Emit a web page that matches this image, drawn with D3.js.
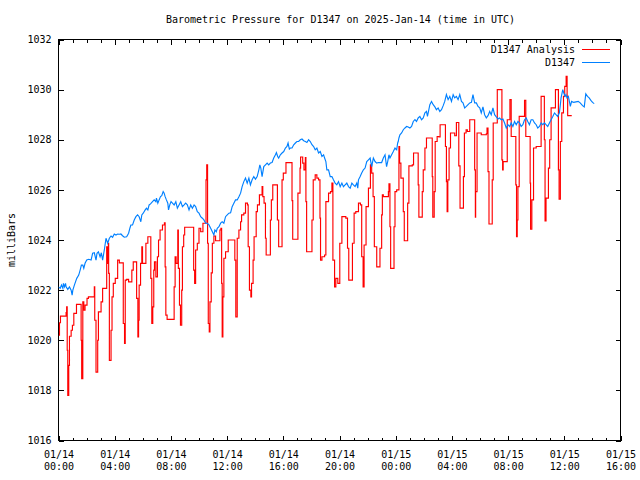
<!DOCTYPE html>
<html><head><meta charset="utf-8">
<script src="https://cdn.jsdelivr.net/npm/d3@7"></script>
<style>
body{margin:0;background:#fff}
svg{display:block}
text{font-family:"DejaVu Sans Mono","Liberation Mono",monospace;font-size:10px;fill:#000}
</style>
</head><body>
<svg id="c" width="640" height="480"></svg>
<script>
const chartTitle = "Barometric Pressure for D1347 on 2025-Jan-14 (time in UTC)";
const yAxisLabel = "milliBars";
const seriesNames = ["D1347 Analysis", "D1347"];
const seriesColors = ["#ff0000", "#0080ff"];
const startTime = "2025-01-14T00:00:00Z";
const xDomainHours = [0, 40];
const majorTickHours = [0, 4, 8, 12, 16, 20, 24, 28, 32, 36, 40];
const yDomain = [1016, 1032];
const yTickValues = [1016, 1018, 1020, 1022, 1024, 1026, 1028, 1030, 1032];

// [hours since start, mbar]
const analysisPoints = [
[0.00,1020.2],[0.07,1020.7],[0.14,1020.96],[0.54,1021.1],[0.58,1021.33],[0.62,1019.6],[0.66,1017.8],[0.73,1019.0],[0.78,1020.16],[0.90,1020.4],[0.99,1020.6],[1.09,1021.07],[1.28,1021.43],[1.61,1020.0],[1.65,1018.47],[1.73,1021.53],[1.80,1021.2],[1.89,1021.4],[2.03,1021.67],[2.13,1021.73],[2.55,1022.13],[2.58,1020.8],[2.67,1018.73],[2.79,1020.0],[2.84,1021.13],[3.03,1021.53],[3.14,1022.07],[3.43,1023.73],[3.50,1023.07],[3.55,1023.87],[3.57,1022.67],[3.62,1019.2],[3.74,1020.4],[3.81,1021.73],[3.90,1022.27],[4.04,1022.47],[4.21,1023.2],[4.33,1023.09],[4.61,1020.67],[4.70,1019.87],[4.75,1022.4],[4.85,1022.43],[4.99,1022.33],[5.22,1022.8],[5.32,1023.13],[5.56,1021.67],[5.65,1020.13],[5.70,1020.8],[5.74,1022.2],[5.84,1023.07],[5.93,1023.73],[5.98,1023.07],[6.22,1023.87],[6.36,1024.13],[6.57,1022.47],[6.64,1020.67],[6.71,1021.33],[6.78,1022.8],[6.83,1023.13],[6.93,1022.53],[7.04,1023.33],[7.12,1024.0],[7.23,1024.4],[7.40,1024.6],[7.54,1024.69],[7.59,1022.93],[7.64,1021.0],[7.73,1020.83],[8.23,1022.13],[8.30,1023.33],[8.37,1023.07],[8.49,1024.4],[8.53,1022.87],[8.61,1021.4],[8.68,1020.6],[8.77,1022.0],[8.82,1023.73],[8.91,1024.2],[8.98,1024.51],[9.62,1022.8],[9.69,1022.27],[9.76,1023.6],[9.88,1023.87],[10.00,1024.47],[10.12,1024.33],[10.28,1024.67],[10.50,1026.4],[10.55,1027.0],[10.61,1023.87],[10.66,1020.67],[10.73,1020.33],[10.78,1021.53],[10.87,1022.69],[10.95,1023.87],[11.06,1024.16],[11.18,1023.97],[11.49,1024.4],[11.56,1024.47],[11.61,1022.27],[11.65,1020.13],[11.70,1021.73],[11.77,1023.27],[11.89,1023.53],[12.08,1024.0],[12.55,1023.2],[12.62,1020.93],[12.72,1024.07],[12.84,1024.4],[12.96,1024.73],[13.03,1025.0],[13.19,1025.07],[13.31,1025.47],[13.45,1025.4],[13.50,1023.73],[13.59,1022.0],[13.69,1021.73],[13.74,1022.27],[13.85,1023.2],[13.92,1024.13],[14.07,1025.13],[14.16,1025.4],[14.30,1025.8],[14.49,1026.13],[14.54,1025.73],[14.63,1025.47],[14.73,1024.07],[14.78,1023.4],[15.08,1024.8],[15.15,1025.6],[15.25,1026.2],[15.58,1024.8],[15.67,1023.73],[15.91,1026.4],[16.00,1026.67],[16.19,1027.09],[16.62,1025.57],[16.67,1024.03],[17.04,1025.87],[17.19,1026.87],[17.23,1027.31],[17.38,1027.07],[17.47,1026.8],[17.57,1027.29],[17.61,1025.53],[17.66,1023.53],[18.04,1024.8],[18.13,1026.4],[18.27,1026.6],[18.39,1026.47],[18.51,1026.4],[18.61,1024.87],[18.65,1023.2],[18.75,1023.33],[18.94,1023.4],[19.03,1025.53],[19.22,1025.87],[19.36,1025.93],[19.46,1026.27],[19.53,1023.2],[19.65,1022.13],[19.74,1022.47],[19.88,1022.27],[20.02,1023.87],[20.17,1024.93],[20.45,1024.87],[20.57,1023.67],[20.66,1022.4],[20.92,1023.87],[21.04,1025.07],[21.16,1025.13],[21.35,1025.47],[21.49,1025.4],[21.58,1023.33],[21.68,1022.13],[21.75,1023.8],[21.89,1025.33],[22.06,1026.07],[22.20,1027.0],[22.29,1026.67],[22.39,1025.73],[22.48,1023.73],[22.65,1022.93],[22.88,1023.67],[23.00,1025.0],[23.05,1025.8],[23.12,1025.73],[23.48,1025.93],[23.52,1026.24],[23.59,1024.53],[23.64,1022.87],[23.88,1024.53],[23.95,1025.93],[24.07,1026.0],[24.23,1027.73],[24.28,1027.07],[24.37,1026.47],[24.54,1025.13],[24.61,1023.97],[24.85,1025.47],[24.94,1026.96],[25.18,1027.0],[25.27,1027.47],[25.60,1026.2],[25.65,1024.91],[25.89,1025.93],[25.96,1026.8],[26.08,1027.67],[26.19,1028.07],[26.60,1026.53],[26.64,1024.91],[26.74,1025.93],[26.81,1027.93],[26.95,1028.13],[27.07,1028.11],[27.16,1028.6],[27.54,1027.73],[27.61,1026.33],[27.66,1025.13],[27.71,1026.4],[27.80,1027.67],[27.90,1028.27],[28.20,1028.16],[28.32,1028.69],[28.49,1026.96],[28.58,1025.27],[28.82,1026.53],[28.89,1028.27],[29.01,1028.4],[29.10,1028.33],[29.27,1028.8],[29.62,1026.8],[29.67,1024.91],[29.69,1025.93],[29.79,1028.27],[30.09,1028.2],[30.45,1028.24],[30.50,1028.47],[30.57,1026.73],[30.64,1024.64],[30.87,1026.4],[30.94,1028.67],[31.23,1030.0],[31.56,1027.2],[31.61,1026.8],[31.65,1027.13],[31.94,1028.8],[32.13,1029.6],[32.22,1028.13],[32.55,1026.2],[32.60,1024.13],[32.65,1024.8],[32.70,1026.13],[32.79,1028.93],[33.17,1029.57],[33.26,1028.13],[33.57,1026.27],[33.60,1024.43],[33.69,1025.6],[33.81,1027.67],[34.00,1027.73],[34.35,1029.73],[34.58,1028.0],[34.63,1024.76],[34.70,1025.67],[34.87,1026.87],[34.96,1028.0],[35.06,1029.27],[35.37,1030.0],[35.58,1026.8],[35.63,1025.63],[35.72,1027.93],[35.82,1029.07],[35.94,1029.73],[36.03,1030.13],[36.13,1030.53],[36.20,1029.73],[36.24,1028.96],[36.53,1028.96]
];

const observedPoints = [
[0.00,1022.13],[0.12,1022.07],[0.21,1022.2],[0.31,1022.07],[0.35,1022.27],[0.43,1022.13],[0.50,1022.27],[0.54,1022.13],[0.66,1022.03],[0.78,1022.13],[0.90,1022.0],[0.97,1021.8],[1.02,1022.0],[1.13,1022.2],[1.21,1022.33],[1.30,1022.47],[1.44,1022.6],[1.54,1022.8],[1.63,1023.0],[1.73,1023.0],[1.80,1022.87],[1.89,1023.07],[2.01,1023.2],[2.15,1023.23],[2.32,1023.2],[2.43,1023.47],[2.55,1023.49],[2.67,1023.2],[2.74,1023.47],[2.84,1023.53],[2.96,1023.33],[3.05,1023.49],[3.14,1023.2],[3.26,1023.6],[3.33,1023.87],[3.38,1024.07],[3.50,1023.87],[3.62,1024.07],[3.74,1024.16],[3.85,1024.11],[3.97,1024.24],[4.09,1024.2],[4.21,1024.24],[4.33,1024.23],[4.44,1024.24],[4.56,1024.17],[4.68,1024.11],[4.85,1024.13],[4.99,1024.27],[5.08,1024.47],[5.15,1024.6],[5.27,1024.6],[5.39,1024.8],[5.51,1024.93],[5.63,1025.0],[5.74,1024.93],[5.86,1024.73],[5.93,1025.0],[6.03,1025.07],[6.17,1025.2],[6.26,1025.27],[6.36,1025.2],[6.45,1025.4],[6.55,1025.44],[6.69,1025.53],[6.81,1025.6],[6.93,1025.53],[6.97,1025.67],[7.07,1025.47],[7.16,1025.6],[7.26,1025.73],[7.35,1025.77],[7.45,1025.93],[7.52,1025.87],[7.59,1025.73],[7.68,1025.6],[7.78,1025.47],[7.83,1025.2],[7.92,1025.4],[8.01,1025.53],[8.11,1025.47],[8.23,1025.4],[8.35,1025.53],[8.46,1025.27],[8.58,1025.4],[8.70,1025.53],[8.82,1025.33],[8.94,1025.4],[9.05,1025.47],[9.17,1025.4],[9.29,1025.2],[9.41,1025.4],[9.53,1025.27],[9.65,1025.4],[9.76,1025.33],[9.88,1025.13],[10.00,1025.07],[10.12,1024.93],[10.24,1024.87],[10.35,1024.8],[10.47,1024.67],[10.59,1024.67],[10.71,1024.6],[10.83,1024.47],[10.95,1024.33],[11.06,1024.2],[11.13,1024.4],[11.23,1024.33],[11.30,1024.47],[11.42,1024.53],[11.54,1024.67],[11.65,1024.73],[11.77,1024.67],[11.89,1024.93],[12.01,1025.0],[12.13,1025.07],[12.25,1025.09],[12.36,1025.33],[12.48,1025.47],[12.60,1025.6],[12.72,1025.6],[12.84,1025.73],[12.96,1025.87],[13.07,1026.13],[13.19,1026.33],[13.31,1026.47],[13.43,1026.27],[13.55,1026.47],[13.66,1026.2],[13.78,1026.4],[13.90,1026.53],[14.02,1026.43],[14.14,1026.53],[14.26,1026.8],[14.33,1027.0],[14.40,1026.87],[14.49,1026.53],[14.61,1026.93],[14.73,1027.0],[14.85,1027.07],[14.96,1027.0],[15.08,1027.07],[15.20,1027.09],[15.32,1027.27],[15.44,1027.4],[15.51,1027.49],[15.60,1027.33],[15.67,1027.27],[15.79,1027.4],[15.91,1027.47],[16.03,1027.53],[16.15,1027.67],[16.26,1027.73],[16.34,1027.87],[16.43,1027.63],[16.50,1027.67],[16.62,1027.67],[16.74,1027.8],[16.86,1027.87],[16.97,1027.93],[17.09,1027.93],[17.21,1028.0],[17.33,1028.03],[17.45,1027.96],[17.57,1027.93],[17.68,1027.89],[17.80,1028.0],[17.92,1027.93],[18.04,1027.8],[18.16,1027.73],[18.27,1027.6],[18.39,1027.67],[18.51,1027.47],[18.63,1027.53],[18.75,1027.33],[18.87,1027.4],[18.94,1027.27],[19.03,1027.13],[19.10,1026.8],[19.22,1026.8],[19.34,1026.53],[19.46,1026.53],[19.57,1026.4],[19.69,1026.27],[19.81,1026.2],[19.93,1026.33],[20.05,1026.13],[20.17,1026.27],[20.28,1026.13],[20.40,1026.2],[20.52,1026.27],[20.64,1026.13],[20.76,1026.07],[20.88,1026.27],[20.99,1026.2],[21.11,1026.13],[21.23,1026.27],[21.30,1026.07],[21.35,1026.4],[21.47,1026.53],[21.58,1026.67],[21.70,1026.8],[21.82,1026.87],[21.94,1027.13],[22.06,1027.2],[22.18,1027.27],[22.29,1026.93],[22.41,1027.27],[22.53,1027.13],[22.65,1027.07],[22.77,1027.09],[22.88,1027.09],[23.00,1027.09],[23.12,1027.27],[23.24,1027.4],[23.35,1026.93],[23.43,1027.13],[23.52,1027.4],[23.59,1027.27],[23.71,1027.4],[23.83,1027.53],[23.95,1027.67],[24.07,1027.6],[24.14,1027.87],[24.18,1027.93],[24.23,1028.07],[24.30,1028.2],[24.42,1028.27],[24.54,1028.4],[24.66,1028.47],[24.78,1028.53],[24.89,1028.51],[25.01,1028.47],[25.13,1028.53],[25.25,1028.73],[25.37,1028.8],[25.48,1028.73],[25.60,1028.87],[25.72,1028.93],[25.84,1028.8],[25.96,1028.87],[26.08,1029.07],[26.19,1029.13],[26.26,1028.93],[26.36,1029.2],[26.43,1029.4],[26.55,1029.53],[26.67,1029.4],[26.79,1029.31],[26.90,1029.2],[27.02,1029.27],[27.14,1029.13],[27.26,1029.2],[27.38,1029.36],[27.49,1029.53],[27.61,1029.8],[27.73,1029.6],[27.85,1029.73],[27.97,1029.53],[28.09,1029.8],[28.20,1029.67],[28.32,1029.73],[28.44,1029.6],[28.56,1029.8],[28.68,1029.53],[28.79,1029.47],[28.91,1029.27],[29.03,1029.33],[29.15,1029.4],[29.27,1029.47],[29.39,1029.49],[29.50,1029.8],[29.62,1029.47],[29.74,1029.47],[29.86,1029.33],[29.98,1029.27],[30.09,1029.07],[30.21,1029.31],[30.33,1029.0],[30.45,1028.87],[30.57,1028.96],[30.69,1029.13],[30.80,1029.0],[30.92,1029.27],[31.04,1029.0],[31.16,1028.91],[31.28,1028.83],[31.39,1028.87],[31.51,1028.8],[31.63,1028.83],[31.75,1028.67],[31.87,1028.47],[31.99,1028.6],[32.11,1028.53],[32.22,1028.67],[32.34,1028.53],[32.46,1028.73],[32.58,1028.6],[32.70,1028.73],[32.81,1028.67],[32.93,1028.53],[33.05,1028.6],[33.17,1028.8],[33.29,1028.87],[33.40,1028.73],[33.52,1028.6],[33.64,1028.8],[33.76,1028.8],[33.88,1028.67],[34.00,1028.6],[34.11,1028.47],[34.23,1028.53],[34.35,1028.67],[34.47,1028.6],[34.59,1028.67],[34.70,1028.6],[34.82,1028.53],[34.94,1028.67],[35.06,1028.8],[35.18,1028.93],[35.30,1029.07],[35.41,1029.0],[35.53,1028.93],[35.65,1029.07],[35.72,1029.4],[35.77,1029.67],[35.89,1030.0],[35.96,1029.87],[36.05,1029.73],[36.12,1029.8],[36.19,1029.67],[36.29,1029.73],[36.36,1029.53],[36.43,1029.33],[36.52,1029.53],[36.67,1029.49],[36.83,1029.51],[36.99,1029.53],[37.13,1029.47],[37.30,1029.36],[37.42,1029.31],[37.53,1029.83],[37.65,1029.73],[37.77,1029.67],[37.89,1029.57],[38.01,1029.49],[38.13,1029.44]
];

const svg = d3.select("#c");
const t0 = new Date(startTime).getTime();
const toDate = h => new Date(t0 + h * 3600e3);

const x = d3.scaleUtc().domain(xDomainHours.map(toDate)).range([58.5, 620.5]);
const y = d3.scaleLinear().domain(yDomain).range([440.5, 39.5]);
const [L, R] = x.range();
const [B, T] = y.range();

const majorTicks = majorTickHours.map(toDate);
const minorTicks = d3.range(xDomainHours[0], xDomainHours[1] + 1).map(toDate);
const fmtDay = d3.utcFormat("%m/%d");
const fmtTime = d3.utcFormat("%H:%M");

svg.append("defs").append("clipPath").attr("id", "plot")
  .append("rect").attr("x", L).attr("y", T).attr("width", R - L).attr("height", B - T);

const axisStyle = g => { g.select(".domain").remove(); g.selectAll(".tick line").attr("stroke", "#000").attr("shape-rendering", "crispEdges"); };

svg.append("g").attr("transform", `translate(0,${B})`)
  .call(d3.axisBottom(x).tickValues(minorTicks).tickSize(-3).tickFormat(""))
  .call(axisStyle);
svg.append("g").attr("transform", `translate(0,${T})`)
  .call(d3.axisTop(x).tickValues(minorTicks).tickSize(-3).tickFormat(""))
  .call(axisStyle);

const xb = svg.append("g").attr("transform", `translate(0,${B})`)
  .call(d3.axisBottom(x).tickValues(majorTicks).tickSize(-5).tickPadding(10).tickFormat(""))
  .call(axisStyle);
xb.selectAll(".tick text").attr("font-size", null).attr("font-family", null).each(function(d) {
  const t = d3.select(this).attr("dy", null);
  t.append("tspan").attr("x", 0).attr("dy", "0.71em").text(fmtDay(d));
  t.append("tspan").attr("x", 0).attr("dy", "1.2em").text(fmtTime(d));
});
svg.append("g").attr("transform", `translate(0,${T})`)
  .call(d3.axisTop(x).tickValues(majorTicks).tickSize(-5).tickFormat(""))
  .call(axisStyle);

const yl = svg.append("g").attr("transform", `translate(${L},0)`)
  .call(d3.axisLeft(y).tickValues(yTickValues).tickSize(-5).tickPadding(7).tickFormat(d3.format("d")))
  .call(axisStyle);
yl.selectAll(".tick text").attr("font-size", null).attr("font-family", null);
svg.append("g").attr("transform", `translate(${R},0)`)
  .call(d3.axisRight(y).tickValues(yTickValues).tickSize(-5).tickFormat(""))
  .call(axisStyle);

svg.append("rect").attr("x", L).attr("y", T).attr("width", R - L).attr("height", B - T)
  .attr("fill", "none").attr("stroke", "#000").attr("stroke-width", 1).attr("shape-rendering", "crispEdges");

const plot = svg.append("g").attr("clip-path", "url(#plot)");
const lineStep = d3.line().x(d => x(toDate(d[0]))).y(d => y(d[1])).curve(d3.curveStepAfter);
const lineLin = d3.line().x(d => x(toDate(d[0]))).y(d => y(d[1]));

plot.append("path").datum(analysisPoints).attr("d", lineStep)
  .attr("fill", "none").attr("stroke", seriesColors[0]).attr("stroke-width", 1.15);
plot.append("path").datum(observedPoints).attr("d", lineLin)
  .attr("fill", "none").attr("stroke", seriesColors[1]).attr("stroke-width", 1.15);

svg.append("text").attr("x", (L + R) / 2 + 1).attr("y", 23).attr("text-anchor", "middle").text(chartTitle);

svg.append("text").attr("transform", `translate(15,${(T + B) / 2}) rotate(-90)`)
  .attr("text-anchor", "middle").text(yAxisLabel);

const legend = svg.append("g");
[0, 1].forEach(i => {
  const ly = 49.5 + i * 13;
  legend.append("text").attr("x", 575).attr("y", ly).attr("dy", "0.35em")
    .attr("text-anchor", "end").text(seriesNames[i]);
  legend.append("line").attr("x1", 582).attr("x2", 610).attr("y1", ly).attr("y2", ly)
    .attr("stroke", seriesColors[i]).attr("stroke-width", 1).attr("shape-rendering", "crispEdges");
});
</script>
</body></html>
